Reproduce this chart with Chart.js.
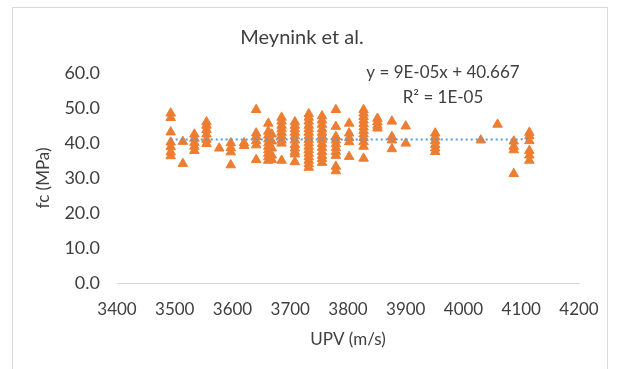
<!DOCTYPE html>
<html>
<head>
<meta charset="utf-8">
<script src="https://cdn.jsdelivr.net/npm/chart.js@4.4.0/dist/chart.umd.min.js"></script>
<style>
  html, body { margin: 0; padding: 0; background: #fff; }
  #wrap { width: 619px; height: 369px; position: relative; }
</style>
</head>
<body>
<div id="wrap"><canvas id="upv-fc" width="619" height="369"></canvas></div>
<script>
// UPV (m/s) and fc (MPa), one pair per marker
var upv = [
    3493, 3493, 3493, 3493, 3493, 3493, 3493,
    3514, 3514,
    3534, 3534, 3534, 3534, 3534,
    3555, 3555, 3555, 3555, 3555, 3555,
    3577,
    3597, 3597, 3597, 3597,
    3620, 3620,
    3641, 3641, 3641, 3641, 3641, 3641,
    3662, 3662, 3662, 3662, 3662, 3662, 3662, 3662, 3662, 3662,
    3668, 3668, 3668, 3668, 3668,
    3685, 3685, 3685, 3685, 3685, 3685, 3685, 3685, 3685,
    3708, 3708, 3708, 3708, 3708, 3708, 3708, 3708, 3708, 3708, 3708,
    3732, 3732, 3732, 3732, 3732, 3732, 3732, 3732, 3732, 3732, 3732, 3732, 3732, 3732, 3732, 3732,
    3755, 3755, 3755, 3755, 3755, 3755, 3755, 3755, 3755, 3755, 3755, 3755, 3755,
    3779, 3779, 3779, 3779, 3779, 3779, 3779, 3779, 3779, 3779,
    3802, 3802, 3802, 3802, 3802,
    3827, 3827, 3827, 3827, 3827, 3827, 3827, 3827, 3827, 3827, 3827, 3827,
    3851, 3851, 3851, 3851,
    3876, 3876, 3876, 3876,
    3900, 3900,
    3951, 3951, 3951, 3951, 3951, 3951,
    4030,
    4059,
    4087, 4087, 4087, 4087,
    4114, 4114, 4114, 4114, 4114, 4114
];
var fc = [
    48.5, 47.2, 43.1, 40.2, 38.9, 37.4, 36.3,
    40.4, 34.1,
    42.5, 41.3, 40.1, 39.0, 37.8,
    46.0, 45.0, 43.8, 42.5, 41.0, 39.8,
    38.5,
    40.0, 38.6, 37.4, 33.7,
    40.0, 39.2,
    49.5, 42.8, 41.8, 40.6, 39.4, 35.2,
    45.6, 43.3, 42.2, 41.1, 40.0, 39.0, 38.0, 37.0, 36.0, 35.0,
    42.5, 40.5, 38.5, 36.5, 35.2,
    47.3, 46.2, 45.0, 44.0, 43.0, 42.0, 40.8, 39.9, 35.0,
    46.0, 45.0, 44.0, 43.0, 42.0, 40.8, 39.5, 38.5, 37.5, 36.8, 34.6,
    48.3, 47.3, 46.2, 45.0, 44.0, 43.0, 42.0, 41.0, 40.0, 39.0, 38.0, 37.0, 36.0, 35.0, 34.0, 33.0,
    47.7, 46.5, 45.3, 44.0, 43.0, 42.0, 41.0, 39.8, 38.7, 37.5, 36.4, 35.5, 34.4,
    49.5, 44.7, 41.8, 40.8, 39.7, 38.6, 37.5, 36.4, 33.3, 32.0,
    45.6, 42.8, 41.5, 40.3, 36.1,
    49.5, 48.5, 47.5, 46.5, 45.5, 44.5, 43.5, 42.5, 41.5, 40.3, 39.0, 35.6,
    47.0, 46.0, 45.0, 44.2,
    46.2, 41.8, 40.8, 38.3,
    44.8, 39.9,
    42.8, 41.7, 40.6, 39.5, 38.5, 37.5,
    40.8,
    45.3,
    40.5, 39.0, 38.0, 31.2,
    43.0, 42.0, 40.6, 37.8, 36.5, 35.0
];

// linear trendline as printed on the chart
var trendSlope = 0.00009;
var trendIntercept = 40.667;
var trendLabel = ['y = 9E-05x + 40.667', 'R\u00b2 = 1E-05'];
var chartTitle = 'Meynink et al.';

var points = upv.map(function(x, i) { return { x: x, y: fc[i] }; });
var trendX = [Math.min.apply(null, upv), Math.max.apply(null, upv)];
var trend = trendX.map(function(x) { return { x: x, y: trendIntercept + trendSlope * x }; });

var textColor = '#404040';
var fontFamily = 'Lato, "Open Sans", sans-serif';

var frame = {
    id: 'frame',
    beforeDraw: function(chart) {
        var ctx = chart.ctx;
        ctx.save();
        ctx.fillStyle = '#fff';
        ctx.fillRect(0, 0, chart.width, chart.height);
        ctx.strokeStyle = '#d9d9d9';
        ctx.lineWidth = 1;
        ctx.strokeRect(12.5, 7.5, 595, 380);
        // title sits centred on the whole frame, not on the plot
        ctx.fillStyle = textColor;
        ctx.font = '20px ' + fontFamily;
        ctx.textAlign = 'center';
        ctx.textBaseline = 'middle';
        ctx.fillText(chartTitle, 302, 38);
        ctx.restore();
    },
    afterDatasetsDraw: function(chart) {
        var ctx = chart.ctx;
        ctx.save();
        ctx.fillStyle = textColor;
        ctx.font = '17px ' + fontFamily;
        ctx.textAlign = 'center';
        ctx.textBaseline = 'middle';
        ctx.fillText(trendLabel[0], 443, 73);
        ctx.fillText(trendLabel[1], 443, 98);
        ctx.restore();
    }
};

var ctx = document.getElementById('upv-fc');
var chart = new Chart(ctx, {
    type: 'scatter',
    data: {
        datasets: [
            {
                label: 'fc',
                data: points,
                pointStyle: 'triangle',
                pointRadius: 5.5,
                pointBorderWidth: 1,
                backgroundColor: '#ED7D31',
                borderColor: '#ED7D31',
                order: 2
            },
            {
                label: 'Linear (fc)',
                type: 'line',
                data: trend,
                borderColor: '#5B9BD5',
                borderWidth: 2,
                borderDash: [2, 3],
                pointRadius: 0,
                fill: false,
                order: 1
            }
        ]
    },
    plugins: [frame],
    options: {
        responsive: false,
        animation: false,
        layout: { padding: { left: 0, right: 40, top: 73, bottom: 0 } },
        plugins: {
            legend: { display: false },
            tooltip: { enabled: false },
            title: { display: false }
        },
        scales: {
            x: {
                type: 'linear',
                min: 3400,
                max: 4200,
                ticks: {
                    stepSize: 100,
                    color: textColor,
                    padding: 16,
                    font: { family: fontFamily, size: 17 },
                    callback: function(v) { return String(v); }
                },
                grid: { display: false, drawTicks: false },
                border: { display: true, color: '#d9d9d9', width: 1 },
                title: {
                    display: true,
                    text: 'UPV (m/s)',
                    color: textColor,
                    font: { family: fontFamily, size: 17 },
                    padding: { top: 0, bottom: 19 }
                },
                afterFit: function(scale) { scale.height = 86; }
            },
            y: {
                min: 0,
                max: 60,
                ticks: {
                    stepSize: 10,
                    color: textColor,
                    padding: 17,
                    font: { family: fontFamily, size: 18 },
                    callback: function(v) { return v.toFixed(1); }
                },
                grid: { display: false, drawTicks: false },
                border: { display: false },
                title: {
                    display: true,
                    text: 'fc (MPa)',
                    color: textColor,
                    font: { family: fontFamily, size: 17 },
                    padding: { top: 33, bottom: 0 }
                },
                afterFit: function(scale) { scale.width = 117; }
            }
        }
    }
});
</script>
</body>
</html>
